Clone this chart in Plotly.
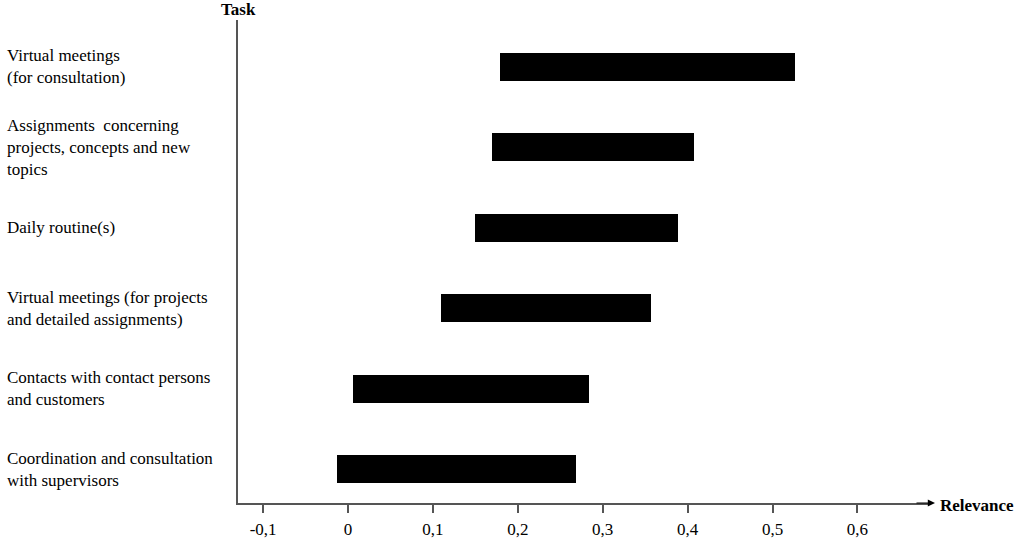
import plotly.graph_objects as go

# tasks, bottom to top
tasks = [
    "Coordination and consultation<br>with supervisors",
    "Contacts with contact persons<br>and customers",
    "Virtual meetings (for projects<br>and detailed assignments)",
    "Daily routine(s)",
    "Assignments  concerning<br>projects, concepts and new<br>topics",
    "Virtual meetings<br>(for consultation)",
]
low = [-0.013, 0.006, 0.109, 0.149, 0.169, 0.179]
high = [0.269, 0.284, 0.357, 0.389, 0.407, 0.527]

tick_vals = [-0.1, 0, 0.1, 0.2, 0.3, 0.4, 0.5, 0.6]
tick_text = ["-0,1", "0", "0,1", "0,2", "0,3", "0,4", "0,5", "0,6"]

font = "Liberation Serif"
pos = list(range(len(tasks)))

fig = go.Figure()
fig.add_trace(go.Bar(
    y=pos, x=[h - l for l, h in zip(low, high)], base=low,
    orientation="h", width=0.35,
    marker=dict(color="black", line=dict(width=0)),
    hoverinfo="skip",
))

# task labels on the left, left aligned
for p, t in zip(pos, tasks):
    fig.add_annotation(
        x=-233 / 692, xref="paper", y=p, yref="y", text=t,
        showarrow=False, xanchor="left", yanchor="middle", align="left",
        font=dict(family=font, size=17, color="black"),
    )

fig.add_annotation(x=0, xref="paper", y=1, yref="paper", text="<b>Task</b>",
                   showarrow=False, xanchor="center", yanchor="bottom", yshift=-1,
                   font=dict(family=font, size=17, color="black"))
fig.add_annotation(x=1, xref="paper", y=0, yref="paper", text="<b>Relevance</b>",
                   showarrow=False, xanchor="left", yanchor="middle", xshift=8, yshift=-2,
                   font=dict(family=font, size=17, color="black"))
# arrow at end of x axis
fig.add_annotation(x=1, xref="paper", y=0, yref="paper", ax=-20, ay=0,
                   text="", showarrow=True, arrowhead=2, arrowsize=1.2,
                   arrowwidth=1.2, arrowcolor="black", xshift=5)

fig.update_layout(
    width=1021, height=545,
    margin=dict(l=238, r=91, t=20, b=42),
    plot_bgcolor="white", paper_bgcolor="white",
    showlegend=False, bargap=0,
    font=dict(family=font, size=17, color="black"),
)
fig.update_xaxes(
    range=[-0.1296, 0.6855], tickvals=tick_vals, ticktext=tick_text,
    showline=True, linecolor="#555555", linewidth=1.5,
    ticks="outside", ticklen=8, tickcolor="#555555", tickwidth=1.5,
    ticklabelstandoff=2, automargin=False,
    showgrid=False, zeroline=False,
    tickfont=dict(family=font, size=17, color="black"),
)
fig.update_yaxes(
    range=[-0.42, 5.58], showticklabels=False, automargin=False,
    showline=True, linecolor="#555555", linewidth=1.5,
    showgrid=False, zeroline=False, ticks="",
)

# drop the default page margin so the figure fills the window exactly
fig.write_html("out.html", config={"displayModeBar": False},
               post_script="document.body.style.margin='0px';")
